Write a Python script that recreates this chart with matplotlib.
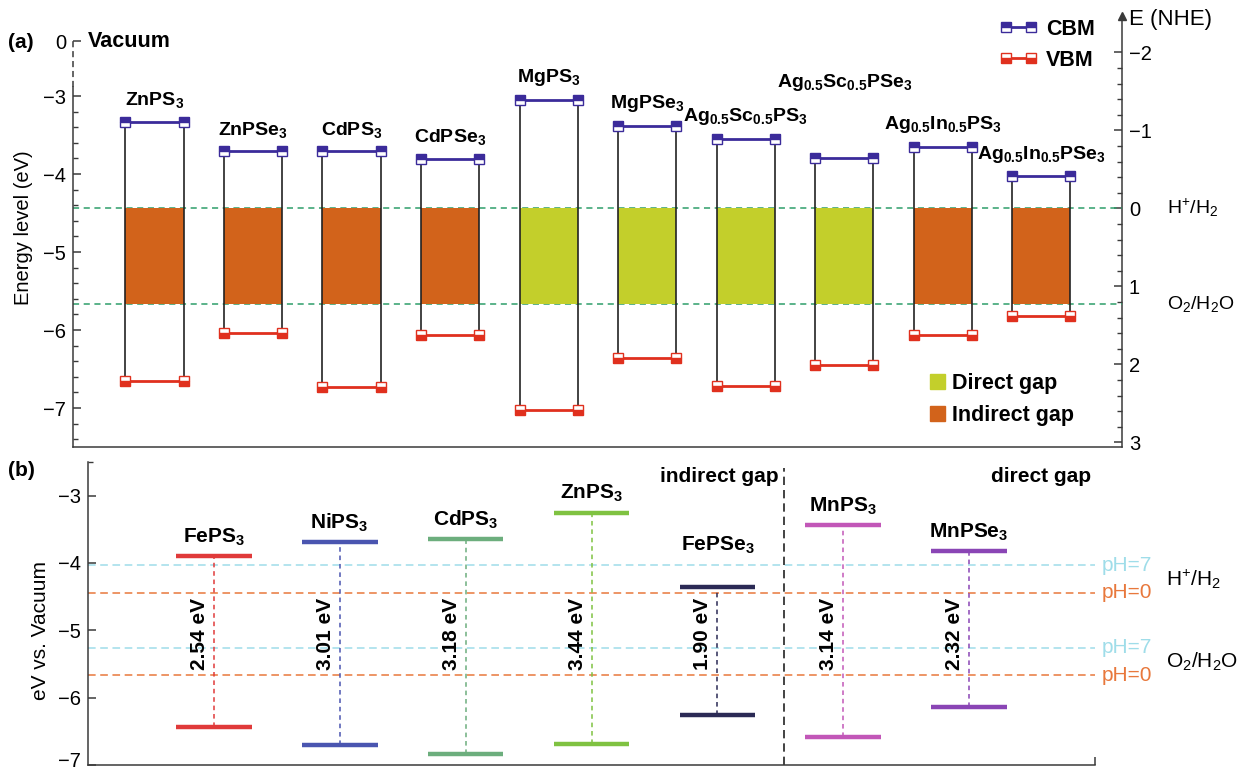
import numpy as np
import matplotlib
matplotlib.use("Agg")
import matplotlib.pyplot as plt
from matplotlib.lines import Line2D
from matplotlib.patches import Patch
from matplotlib.ticker import FixedLocator
from matplotlib.transforms import blended_transform_factory, ScaledTranslation

plt.rcParams.update({
    "font.family": ["Liberation Sans", "DejaVu Sans"],
    "mathtext.fontset": "custom",
    "mathtext.rm": "Liberation Sans",
    "mathtext.it": "Liberation Sans:italic",
    "mathtext.bf": "Liberation Sans:bold",
    "axes.linewidth": 1.1,
})

# ---- panel (a): band edges vs vacuum (eV) ----
labels_a = [r"$\mathbf{ZnPS_3}$", r"$\mathbf{ZnPSe_3}$", r"$\mathbf{CdPS_3}$",
            r"$\mathbf{CdPSe_3}$", r"$\mathbf{MgPS_3}$", r"$\mathbf{MgPSe_3}$",
            r"$\mathbf{Ag_{0.5}Sc_{0.5}PS_3}$", r"$\mathbf{Ag_{0.5}Sc_{0.5}PSe_3}$",
            r"$\mathbf{Ag_{0.5}In_{0.5}PS_3}$", r"$\mathbf{Ag_{0.5}In_{0.5}PSe_3}$"]
cbm_a = [-3.33, -3.71, -3.71, -3.81, -3.05, -3.38, -3.55, -3.79, -3.65, -4.03]
vbm_a = [-6.65, -6.04, -6.73, -6.06, -7.03, -6.36, -6.72, -6.45, -6.07, -5.82]
direct_a = [False, False, False, False, True, True, True, True, False, False]

# ---- panel (b) ----
labels_b = [r"$\mathbf{FePS_3}$", r"$\mathbf{NiPS_3}$", r"$\mathbf{CdPS_3}$",
            r"$\mathbf{ZnPS_3}$", r"$\mathbf{FePSe_3}$", r"$\mathbf{MnPS_3}$",
            r"$\mathbf{MnPSe_3}$"]
cbm_b = [-3.89, -3.69, -3.65, -3.25, -4.35, -3.44, -3.82]
gap_b = [2.54, 3.01, 3.18, 3.44, 1.90, 3.14, 2.32]
colors_b = ["#e03a3a", "#4a55b0", "#6cae7d", "#7fc241", "#2b2a55", "#c257b8", "#8a45b5"]

# redox potentials vs vacuum
H2_pH0, O2_pH0 = -4.44, -5.67
H2_pH7, O2_pH7 = -4.03, -5.26

spine_c = "#3a3a3a"
cbm_c = "#3b2b9a"
vbm_c = "#e0301e"
fill_direct = "#c3cf2b"
fill_indirect = "#d2631b"
redox_green = "#2e9e6a"
cyan = "#9fdde9"
orange = "#e8783c"

fig = plt.figure(figsize=(12.39, 7.7), dpi=100)

# ================= (a) =================
axa = fig.add_axes([73 / 1239, 1 - 447 / 770, 1049 / 1239, 431 / 770])
ytop = -1.974
axa.set_ylim(-7.5, ytop)
axa.set_xlim(-0.827, 9.82)
bt_a = blended_transform_factory(axa.transAxes, axa.transData)

half = 0.295
for i, (cb, vb, d) in enumerate(zip(cbm_a, vbm_a, direct_a)):
    l, r = i - half, i + half
    axa.fill_between([l, r], max(vb, O2_pH0), min(cb, H2_pH0),
                     color=fill_direct if d else fill_indirect, lw=0, zorder=1)
    axa.vlines([l, r], vb, cb, color="#222222", lw=1.2, zorder=2)
    axa.plot([l, r], [cb, cb], color=cbm_c, lw=2, marker="s", ms=6.5,
             fillstyle="top", markerfacecoloralt="white", mec=cbm_c, mew=1, zorder=3)
    axa.plot([l, r], [vb, vb], color=vbm_c, lw=2, marker="s", ms=6.5,
             fillstyle="bottom", markerfacecoloralt="white", mec=vbm_c, mew=1, zorder=3)

# material names above the CBM
for i, (lab, cb) in enumerate(zip(labels_a, cbm_a)):
    lift = 0.83 if i == 7 else 0.15
    axa.text(i, cb + lift, lab, ha="center", va="bottom", fontsize=14)

for lvl in (H2_pH0, O2_pH0):
    axa.axhline(lvl, color=redox_green, ls=(0, (4, 3)), lw=1.1, zorder=0.5)

axa.text(1.043, H2_pH0, r"H$^{+}$/H$_2$", transform=bt_a, va="center", ha="left", fontsize=14)
axa.text(1.043, O2_pH0, r"O$_2$/H$_2$O", transform=bt_a, va="center", ha="left", fontsize=14)

# axes styling
for s in ("top", "right"):
    axa.spines[s].set_visible(False)
for s in ("left", "bottom"):
    axa.spines[s].set_color(spine_c)
axa.spines["left"].set_bounds(-7.5, -2.88)
axa.plot([0, 0], [-2.88, -2.3], transform=bt_a, color=spine_c, lw=1.1,
         ls=(0, (4, 2.5)), clip_on=False)
axa.set_xticks([])
axa.set_yticks([-7, -6, -5, -4, -3, -2.3])
axa.set_yticklabels(["\u22127", "\u22126", "\u22125", "\u22124", "\u22123", "0"])
axa.yaxis.set_minor_locator(FixedLocator(np.round(np.arange(-7.4, -3.1, 0.2), 1)))
axa.tick_params(axis="y", which="major", direction="in", length=6, width=1.1,
                labelsize=14.5, pad=5, color=spine_c)
axa.tick_params(axis="y", which="minor", direction="in", length=3.6, width=1.0, color=spine_c)
axa.set_ylabel("Energy level (eV)", fontsize=14.5)
axa.yaxis.set_label_coords(-0.038, 0.51)
axa.text(0.0143, -2.3, "Vacuum", transform=bt_a, fontweight="bold", fontsize=15.5, va="center")

# NHE scale on the right
sec = axa.secondary_yaxis("right", functions=(lambda e: -e - 4.44, lambda n: -n - 4.44))
sec.set_yticks([-2, -1, 0, 1, 2, 3])
sec.yaxis.set_minor_locator(FixedLocator(np.round(np.arange(-1.8, 2.9, 0.2), 1)))
sec.tick_params(which="major", direction="in", length=6, width=1.1, labelsize=14.5, pad=5, color=spine_c)
sec.tick_params(which="minor", direction="in", length=3.6, width=1.0, color=spine_c)
sec.spines["right"].set_color(spine_c)
axa.plot([1], [ytop], marker="^", ms=6, color=spine_c, transform=bt_a, clip_on=False)
fig.text(1129 / 1239, 1 - 20 / 770, "E (NHE)", va="center", ha="left", fontsize=16)

fig.text(8 / 1239, 1 - 43 / 770, "(a)", fontweight="bold", fontsize=15, va="center")

edge_handles = [
    Line2D([], [], color=cbm_c, lw=2, marker="s", ms=6.5, fillstyle="top",
           markerfacecoloralt="white", mec=cbm_c, mew=1),
    Line2D([], [], color=vbm_c, lw=2, marker="s", ms=6.5, fillstyle="bottom",
           markerfacecoloralt="white", mec=vbm_c, mew=1),
]
fig.legend(edge_handles, ["CBM", "VBM"], loc="upper right", numpoints=2,
           bbox_to_anchor=(1095 / 1239, 1 - 19 / 770), frameon=False,
           borderpad=0, borderaxespad=0, handlelength=1.75, handletextpad=0.4,
           labelspacing=0.45, prop={"weight": "bold", "size": 15.5})

gap_handles = [Patch(color=fill_direct), Patch(color=fill_indirect)]
fig.legend(gap_handles, ["Direct gap", "Indirect gap"], loc="upper left",
           bbox_to_anchor=(930 / 1239, 1 - 373 / 770), frameon=False,
           borderpad=0, borderaxespad=0, handlelength=0.72, handleheight=0.72,
           handletextpad=0.3, labelspacing=0.5, prop={"weight": "bold", "size": 15.5})

# ================= (b) =================
axb = fig.add_axes([88 / 1239, 5 / 770, 1007 / 1239, 303 / 770])
axb.set_ylim(-7, -2.5)
axb.set_xlim(-1, 7)
bt_b = blended_transform_factory(axb.transAxes, axb.transData)

for lvl, c in ((H2_pH7, cyan), (O2_pH7, cyan), (H2_pH0, orange), (O2_pH0, orange)):
    axb.axhline(lvl, color=c, ls=(0, (5, 3)), lw=1.1, zorder=0.5)

for i, (lab, cb, g, c) in enumerate(zip(labels_b, cbm_b, gap_b, colors_b)):
    vb = cb - g
    axb.plot([i - 0.3, i + 0.3], [cb, cb], color=c, lw=3.2, solid_capstyle="butt", zorder=3)
    axb.plot([i - 0.3, i + 0.3], [vb, vb], color=c, lw=3.2, solid_capstyle="butt", zorder=3)
    axb.plot([i, i], [vb, cb], color=c, lw=1.1, ls=(0, (3, 2.5)), zorder=2)
    lift = 0.46 if i == 4 else 0.12
    axb.text(i, cb + lift, lab, ha="center", va="bottom", fontsize=15)
    axb.text(i - 0.115, -5.06, f"{g:.2f} eV", rotation=90, ha="center", va="center",
             fontsize=15, fontweight="bold")

axb.axvline(4.53, ymax=0.98, color="#222222", ls=(0, (5, 3)), lw=1.2)
axb.text(4.49, -2.72, "indirect gap", ha="right", va="center", fontsize=15, fontweight="bold")
axb.text(6.97, -2.72, "direct gap", ha="right", va="center", fontsize=15, fontweight="bold")

axb.text(1.007, H2_pH7, "pH=7", color=cyan, transform=bt_b, va="center", ha="left", fontsize=15)
axb.text(1.007, H2_pH0, "pH=0", color=orange, transform=bt_b, va="center", ha="left", fontsize=15)
axb.text(1.007, O2_pH7, "pH=7", color=cyan, transform=bt_b, va="center", ha="left", fontsize=15)
axb.text(1.007, O2_pH0, "pH=0", color=orange, transform=bt_b, va="center", ha="left", fontsize=15)
axb.text(1.0705, (H2_pH7 + H2_pH0) / 2, r"H$^{+}$/H$_2$", transform=bt_b,
         va="center", ha="left", fontsize=15)
axb.text(1.0705, (O2_pH7 + O2_pH0) / 2, r"O$_2$/H$_2$O", transform=bt_b,
         va="center", ha="left", fontsize=15)

for s in ("top", "right"):
    axb.spines[s].set_visible(False)
for s in ("left", "bottom"):
    axb.spines[s].set_color(spine_c)
axb.set_xticks([7])
axb.set_xticklabels([""])
axb.tick_params(axis="x", direction="in", length=6, width=1.1, color=spine_c)
axb.set_yticks([-7, -6, -5, -4, -3])
axb.yaxis.set_minor_locator(FixedLocator([-2.5]))
axb.tick_params(axis="y", which="major", direction="in", length=6, width=1.1,
                labelsize=14.5, pad=5, color=spine_c)
axb.tick_params(axis="y", which="minor", direction="in", length=3.6, width=1.0, color=spine_c)
axb.set_ylabel("eV vs. Vacuum", fontsize=15)
axb.yaxis.set_label_coords(-0.0377, 0.4455)

# nudge the lowest tick label up so it stays inside the canvas
fig.canvas.draw()
lowest = axb.get_yticklabels()[0]
lowest.set_transform(lowest.get_transform() + ScaledTranslation(0, 4 / 72, fig.dpi_scale_trans))

fig.text(8 / 1239, 1 - 470 / 770, "(b)", fontweight="bold", fontsize=15, va="center")

fig.savefig("out.png", dpi=100)
